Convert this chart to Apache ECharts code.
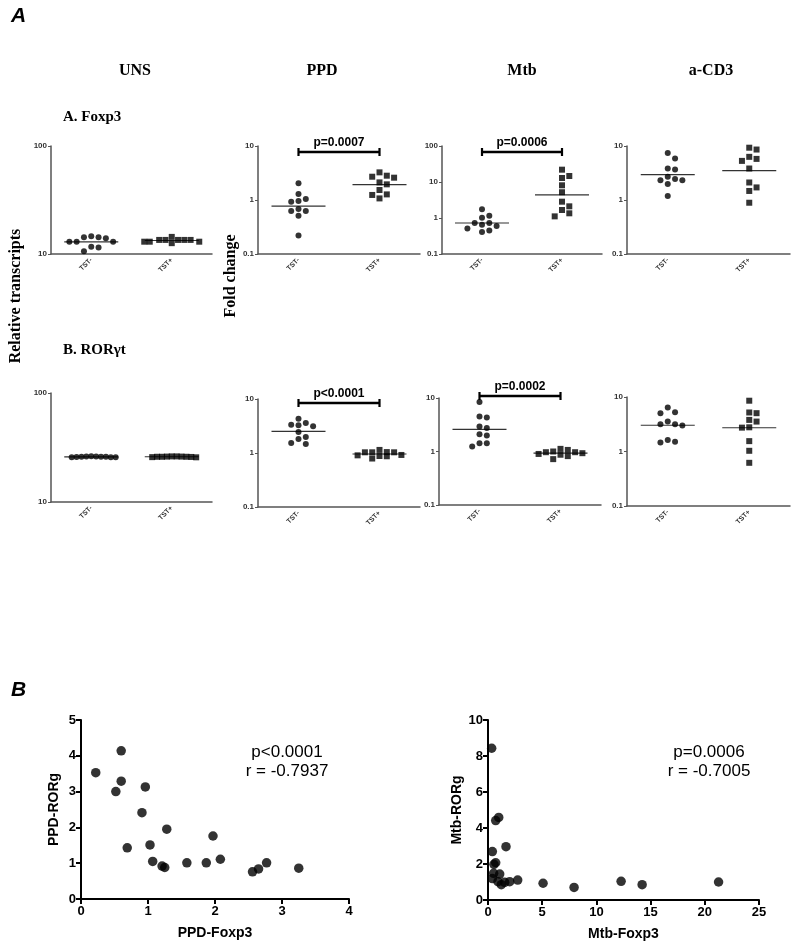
<!DOCTYPE html>
<html><head><meta charset="utf-8">
<script src="https://cdn.jsdelivr.net/npm/echarts@6/dist/echarts.min.js"></script>
<style>html,body{margin:0;padding:0;background:#fff}#c{width:800px;height:949px}</style>
</head><body><div id="c"></div>
<script>
// ---------- DATA ----------
const categories = ['TST-', 'TST+'];
const columnTitles = ['UNS', 'PPD', 'Mtb', 'a-CD3'];
// A. Foxp3 (relative transcripts / fold change)
const unsFoxp3Neg = [14.3, 14.0, 13.0, 11.7, 13.0, 10.6, 13.0, 11.5, 14.3, 14.6];
const unsFoxp3Pos = [13.5, 13.5, 13.0, 13.5, 12.6, 13.5, 13.0, 14.4, 13.0, 13.5];
const ppdFoxp3Neg = [2.04, 1.29, 1.04, 0.93, 0.96, 0.68, 0.625, 0.625, 0.51, 0.22];
const ppdFoxp3Pos = [3.25, 2.82, 2.59, 2.7, 2.12, 1.95, 1.53, 1.27, 1.24, 1.07];
const mtbFoxp3Neg = [1.74, 1.16, 1.02, 0.73, 0.73, 0.65, 0.6, 0.51, 0.45, 0.41];
const mtbFoxp3Pos = [22, 14.7, 12.9, 8.1, 5.2, 2.84, 2.11, 1.67, 1.35, 1.11];
const cd3Foxp3Neg = [7.43, 5.85, 3.67, 3.83, 2.69, 2.44, 2.33, 2.33, 1.97, 1.18];
const cd3Foxp3Pos = [9.3, 8.6, 6.3, 5.3, 5.77, 3.83, 2.11, 1.71, 1.47, 0.89];
// B. RORγt
const unsRorNeg = [26.2, 26.0, 25.7, 25.9, 26.1, 25.8, 26.0, 26.3, 25.8, 26.0];
const unsRorPos = [26.1, 26.0, 25.8, 26.2, 25.9, 26.0, 26.1, 25.7, 26.0, 26.2];
const ppdRorNeg = [4.32, 3.35, 3.59, 3.12, 3.25, 2.45, 1.98, 1.82, 1.53, 1.47];
const ppdRorPos = [1.03, 0.92, 0.88, 1.04, 1.14, 1.03, 0.79, 0.87, 0.905, 1.03];
const mtbRorNeg = [8.4, 4.53, 4.34, 2.94, 2.74, 2.11, 2.0, 1.43, 1.43, 1.24];
const mtbRorPos = [1.12, 1.07, 1.0, 0.97, 0.97, 0.93, 0.9, 0.87, 0.82, 0.72];
const cd3RorNeg = [6.44, 5.05, 5.27, 3.54, 3.16, 2.99, 3.16, 1.62, 1.47, 1.51];
const cd3RorPos = [8.55, 5.2, 5.05, 3.8, 3.54, 2.78, 2.74, 1.55, 1.03, 0.62];
// p-values
const pFoxp3 = { ppd: 'p=0.0007', mtb: 'p=0.0006' };
const pRor = { ppd: 'p<0.0001', mtb: 'p=0.0002' };
// Correlations (panel B)
const ppdFoxp3 = [0.22, 0.60, 0.60, 0.52, 0.96, 0.91, 1.28, 0.69, 1.03, 1.07, 1.21, 1.25, 1.58, 1.87, 1.97, 2.08, 2.56, 2.65, 2.77, 3.25];
const ppdRorg  = [3.53, 4.14, 3.29, 3.00, 3.13, 2.41, 1.95, 1.43, 1.51, 1.05, 0.92, 0.88, 1.01, 1.01, 1.76, 1.11, 0.76, 0.84, 1.01, 0.86];
const mtbFoxp3 = [0.34, 0.99, 0.71, 1.66, 0.40, 0.71, 0.55, 0.52, 1.08, 0.40, 0.92, 1.23, 1.54, 2.00, 2.74, 5.08, 7.94, 12.28, 14.22, 21.27];
const mtbRorg  = [8.43, 4.59, 4.41, 2.96, 2.69, 2.07, 1.98, 1.48, 1.44, 1.19, 1.02, 0.85, 0.98, 1.02, 1.11, 0.93, 0.70, 1.04, 0.85, 1.00];
const corrText = { ppd: ['p<0.0001', 'r = -0.7937'], mtb: ['p=0.0006', 'r = -0.7005'] };

// ---------- LAYOUT ----------
const SANS = 'Liberation Sans', SERIF = 'Liberation Serif';
const panels = [
  { neg: unsFoxp3Neg, pos: unsFoxp3Pos, min: 10, max: 100, grid: { left: 51, top: 146, width: 161, height: 108 } },
  { neg: ppdFoxp3Neg, pos: ppdFoxp3Pos, min: 0.1, max: 10, grid: { left: 258, top: 146, width: 162, height: 108 }, p: pFoxp3.ppd, bo: 6 },
  { neg: mtbFoxp3Neg, pos: mtbFoxp3Pos, min: 0.1, max: 100, grid: { left: 442, top: 146, width: 160, height: 108 }, p: pFoxp3.mtb, bo: 6 },
  { neg: cd3Foxp3Neg, pos: cd3Foxp3Pos, min: 0.1, max: 10, grid: { left: 627, top: 146, width: 163, height: 108 } },
  { neg: unsRorNeg, pos: unsRorPos, min: 10, max: 100, grid: { left: 51, top: 393, width: 161, height: 109 } },
  { neg: ppdRorNeg, pos: ppdRorPos, min: 0.1, max: 10, grid: { left: 258, top: 399, width: 162, height: 108 }, p: pRor.ppd, bo: 4 },
  { neg: mtbRorNeg, pos: mtbRorPos, min: 0.1, max: 10, grid: { left: 439, top: 398, width: 162, height: 107 }, p: pRor.mtb, bo: -2 },
  { neg: cd3RorNeg, pos: cd3RorPos, min: 0.1, max: 10, grid: { left: 627, top: 397, width: 163, height: 109 } }
];

function geoMean(a) { return Math.pow(10, a.reduce((s, v) => s + Math.log10(v), 0) / a.length); }

const grids = [], xAxes = [], yAxes = [], series = [];
const AX = '#555';
panels.forEach((p, i) => {
  grids.push(p.grid);
  xAxes.push({
    type: 'category', gridIndex: i, data: categories, boundaryGap: true,
    axisLine: { lineStyle: { color: AX, width: 1.5 } },
    axisTick: { alignWithLabel: true, length: 3, lineStyle: { color: AX } },
    axisLabel: { rotate: 45, fontSize: 7, fontWeight: 'bold', fontFamily: SANS, color: '#333', margin: 5 },
    splitLine: { show: false }
  });
  yAxes.push({
    type: 'log', logBase: 10, gridIndex: i, min: p.min, max: p.max,
    axisLine: { show: true, lineStyle: { color: AX, width: 1.5 } },
    axisTick: { show: true, length: 3, lineStyle: { color: AX } },
    axisLabel: { fontSize: 8, fontWeight: 'bold', fontFamily: SANS, color: '#333', margin: 4 },
    splitLine: { show: false }, minorTick: { show: false }
  });
  series.push({ type: 'scatter', id: 'n' + i, xAxisIndex: i, yAxisIndex: i, symbol: 'circle', symbolSize: 6,
    itemStyle: { color: '#000' }, data: p.neg.map(v => [0, v]) });
  series.push({ type: 'scatter', id: 'p' + i, xAxisIndex: i, yAxisIndex: i, symbol: 'rect', symbolSize: 6,
    itemStyle: { color: '#000' }, data: p.pos.map(v => [1, v]) });
  series.push({ type: 'custom', xAxisIndex: i, yAxisIndex: i, silent: true, z: 1,
    data: [[0, geoMean(p.neg)], [1, geoMean(p.pos)]],
    renderItem: (params, api) => {
      const c = api.coord([api.value(0), api.value(1)]);
      return { type: 'line', shape: { x1: c[0] - 27, y1: c[1], x2: c[0] + 27, y2: c[1] }, style: { stroke: '#333', lineWidth: 1.2 } };
    }
  });
  if (p.p) {
    const txt = p.p, bo = p.bo, top = p.max;
    series.push({ type: 'custom', xAxisIndex: i, yAxisIndex: i, silent: true, clip: false,
      data: [[0, top]],
      renderItem: (params, api) => {
        const a = api.coord([0, top]), b = api.coord([1, top]);
        const y = a[1] + bo;
        return { type: 'group', children: [
          { type: 'line', shape: { x1: a[0], y1: y, x2: b[0], y2: y }, style: { stroke: '#000', lineWidth: 2.6 } },
          { type: 'line', shape: { x1: a[0], y1: y - 4, x2: a[0], y2: y + 4 }, style: { stroke: '#000', lineWidth: 2.2 } },
          { type: 'line', shape: { x1: b[0], y1: y - 4, x2: b[0], y2: y + 4 }, style: { stroke: '#000', lineWidth: 2.2 } },
          { type: 'text', style: { text: txt, x: (a[0] + b[0]) / 2, y: y - 3, align: 'center', verticalAlign: 'bottom',
            fontSize: 12, fontWeight: 'bold', fontFamily: SANS, fill: '#000' } }
        ] };
      }
    });
  }
});

// Correlation scatter plots
const corr = [
  { x: ppdFoxp3, y: ppdRorg, xmax: 4, xint: 1, ymax: 5, yint: 1, xname: 'PPD-Foxp3', yname: 'PPD-RORg', grid: { left: 81, top: 720, width: 268, height: 179 } },
  { x: mtbFoxp3, y: mtbRorg, xmax: 25, xint: 5, ymax: 10, yint: 2, xname: 'Mtb-Foxp3', yname: 'Mtb-RORg', grid: { left: 488, top: 720, width: 271, height: 180 } }
];
corr.forEach((c) => {
  const gi = grids.length;
  grids.push(c.grid);
  const common = {
    gridIndex: gi, type: 'value', min: 0, nameLocation: 'middle',
    axisLine: { show: true, onZero: false, lineStyle: { color: '#000', width: 2 } },
    axisTick: { show: true, length: 5, lineStyle: { color: '#000', width: 2 } },
    axisLabel: { fontSize: 13, fontWeight: 'bold', fontFamily: SANS, color: '#000' },
    nameTextStyle: { fontSize: 14, fontWeight: 'bold', fontFamily: SANS, color: '#000' },
    splitLine: { show: false }
  };
  xAxes.push(Object.assign({}, common, { max: c.xmax, interval: c.xint, name: c.xname, nameGap: 27,
    axisLabel: Object.assign({}, common.axisLabel, { margin: 6 }) }));
  yAxes.push(Object.assign({}, common, { max: c.ymax, interval: c.yint, name: c.yname, nameGap: 20,
    axisLabel: Object.assign({}, common.axisLabel, { margin: 5 }) }));
  series.push({ type: 'scatter', xAxisIndex: gi, yAxisIndex: gi, symbolSize: 9.5, itemStyle: { color: '#000' },
    data: c.x.map((v, k) => [v, c.y[k]]) });
});

const graphic = [
  { type: 'text', left: 11, top: 6, style: { text: 'A', fontSize: 21, fontWeight: 'bold', fontStyle: 'italic', fontFamily: SANS, fill: '#000' } },
  { type: 'text', left: 11, top: 680, style: { text: 'B', fontSize: 21, fontWeight: 'bold', fontStyle: 'italic', fontFamily: SANS, fill: '#000' } },
  { type: 'text', x: 63, y: 117, style: { text: 'A. Foxp3', fontSize: 15, fontWeight: 'bold', fontFamily: SERIF, fill: '#000', verticalAlign: 'middle' } },
  { type: 'text', x: 63, y: 350, style: { text: 'B. RORγt', fontSize: 15, fontWeight: 'bold', fontFamily: SERIF, fill: '#000', verticalAlign: 'middle' } },
  { type: 'text', x: 16, y: 296, rotation: Math.PI / 2, style: { text: 'Relative transcripts', fontSize: 16, fontWeight: 'bold', fontFamily: SERIF, fill: '#000', align: 'center', verticalAlign: 'middle' } },
  { type: 'text', x: 231, y: 276, rotation: Math.PI / 2, style: { text: 'Fold change', fontSize: 16, fontWeight: 'bold', fontFamily: SERIF, fill: '#000', align: 'center', verticalAlign: 'middle' } }
];
const titleX = [135, 322, 522, 711];
columnTitles.forEach((t, k) => graphic.push({ type: 'text', x: titleX[k], y: 71,
  style: { text: t, fontSize: 16, fontWeight: 'bold', fontFamily: SERIF, fill: '#000', align: 'center', verticalAlign: 'middle' } }));
const ctPos = [287, 709];
[corrText.ppd, corrText.mtb].forEach((lines, k) => lines.forEach((t, j) => graphic.push({ type: 'text', x: ctPos[k], y: 752 + j * 19,
  style: { text: t, fontSize: 17, fontFamily: SANS, fill: '#000', align: 'center', verticalAlign: 'middle' } })));

const chart = echarts.init(document.getElementById('c'), null, { renderer: 'canvas' });
chart.setOption({ animation: false, backgroundColor: '#fff', grid: grids, xAxis: xAxes, yAxis: yAxes, series, graphic });

// beeswarm-like horizontal spreading of dots (pixel offsets only)
function swarm(pys) {
  const step = 7.3, maxK = 3, diam = 6.4;
  const order = pys.map((y, i) => i).sort((a, b) => pys[a] - pys[b]);
  const placed = [], off = new Array(pys.length).fill(0);
  order.forEach(i => {
    const y = pys[i];
    const nClose = pys.filter(q => Math.abs(q - y) < 2.5).length;
    let s = step, K = maxK, d = diam;
    if (nClose > 2 * maxK + 1) { s = 44 / (nClose - 1); K = Math.ceil(nClose / 2); d = s * 0.95; }
    const cands = [0];
    for (let k = 1; k <= K; k++) cands.push(k * s, -k * s);
    let best = 0, bestScore = -1;
    for (const c of cands) {
      let minD = Infinity;
      placed.forEach(p => { minD = Math.min(minD, Math.hypot(p.x - c, p.y - y)); });
      if (minD >= d) { best = c; break; }
      if (minD > bestScore) { bestScore = minD; best = c; }
    }
    off[i] = best; placed.push({ x: best, y });
  });
  return off;
}
const upd = [];
panels.forEach((p, i) => {
  [['n', p.neg, 0], ['p', p.pos, 1]].forEach(([pre, arr, ci]) => {
    const pys = arr.map(v => chart.convertToPixel({ xAxisIndex: i, yAxisIndex: i }, [ci, v])[1]);
    const off = swarm(pys);
    upd.push({ id: pre + i, data: arr.map((v, k) => ({ value: [ci, v], symbolOffset: [off[k], 0] })) });
  });
});
chart.setOption({ series: upd });
</script></body></html>
